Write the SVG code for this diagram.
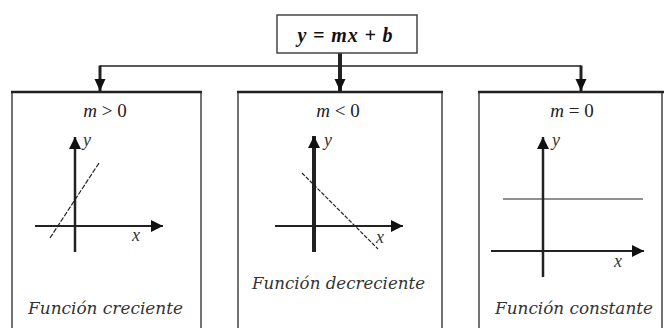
<svg xmlns="http://www.w3.org/2000/svg" width="664" height="328" viewBox="0 0 664 328">
<defs>
<style>
.box{fill:#fff;stroke:#444;stroke-width:1.5}
.boxtop{stroke:#222;stroke-width:2.5}
.conn{stroke:#222;fill:none}
.axis{stroke:#222;fill:none}
.m{font-family:"Liberation Serif","Times New Roman",serif;font-size:19px;fill:#222}
.lbl{font-family:"DejaVu Serif",serif;font-style:italic;font-size:17px;fill:#333}
.ax{font-family:"Liberation Serif","Times New Roman",serif;font-style:italic;font-size:18px;fill:#333}
.eq{font-family:"Liberation Serif","Times New Roman",serif;font-style:italic;font-weight:bold;font-size:20px;fill:#111}
</style>
<marker id="ah" markerUnits="userSpaceOnUse" markerWidth="12" markerHeight="12" viewBox="0 0 12 12" refX="12" refY="6" orient="auto">
<path d="M0,0 L12,6 L0,12 Z" fill="#111"/>
</marker>
<marker id="ahc" markerUnits="userSpaceOnUse" markerWidth="12" markerHeight="12" viewBox="0 0 12 12" refX="12" refY="6" orient="auto">
<path d="M0,0.5 L12,6 L0,11.5 Z" fill="#111"/>
</marker>
</defs>
<rect width="664" height="328" fill="#fff"/>

<g id="connectors">
<line class="conn" x1="100" y1="66" x2="581" y2="66" stroke-width="1.5"/>
<line class="conn" x1="340" y1="53" x2="340" y2="91" stroke-width="4" marker-end="url(#ahc)"/>
<line class="conn" x1="100" y1="65.5" x2="100" y2="91" stroke-width="3" marker-end="url(#ahc)"/>
<line class="conn" x1="581" y1="65.5" x2="581" y2="91" stroke-width="3" marker-end="url(#ahc)"/>
</g>

<g id="root">
<rect class="box" x="277" y="15" width="140" height="38" stroke="#333"/>
<text class="eq" x="345" y="42" text-anchor="middle" textLength="95">y = mx + b</text>
</g>

<g id="node-pos">
<rect class="box" x="12" y="92" width="189" height="260"/>
<line class="boxtop" x1="11" y1="92" x2="202" y2="92"/>
<text class="m" x="105" y="117" text-anchor="middle"><tspan font-style="italic">m</tspan> &gt; 0</text>
<line class="axis" x1="75" y1="252" x2="75" y2="137" stroke-width="2.5" marker-end="url(#ah)"/>
<line class="axis" x1="35" y1="226" x2="163" y2="226" stroke-width="2" marker-end="url(#ah)"/>
<line class="axis" x1="50" y1="238" x2="99" y2="163" stroke-width="1.2" stroke-dasharray="5,1.5" stroke="#444"/>
<text class="ax" x="83" y="146">y</text>
<text class="ax" x="132" y="241">x</text>
<text class="lbl" x="105.5" y="314" text-anchor="middle" textLength="155" lengthAdjust="spacingAndGlyphs">Función creciente</text>
</g>

<g id="node-neg">
<rect class="box" x="238" y="92" width="204" height="260"/>
<line class="boxtop" x1="237" y1="92" x2="443" y2="92"/>
<text class="m" x="338" y="117" text-anchor="middle"><tspan font-style="italic">m</tspan> &lt; 0</text>
<line class="axis" x1="314" y1="252" x2="314" y2="136" stroke-width="4" marker-end="url(#ah)"/>
<line class="axis" x1="275" y1="226" x2="403" y2="226" stroke-width="2" marker-end="url(#ah)"/>
<line class="axis" x1="302" y1="173" x2="378" y2="249" stroke-width="1.2" stroke-dasharray="4,1.5" stroke="#444"/>
<text class="ax" x="324" y="146">y</text>
<text class="ax" x="376" y="243">x</text>
<text class="lbl" x="338.5" y="289" text-anchor="middle" textLength="173" lengthAdjust="spacingAndGlyphs">Función decreciente</text>
</g>

<g id="node-zero">
<rect class="box" x="479" y="92" width="183" height="260"/>
<line class="boxtop" x1="478" y1="92" x2="664" y2="92"/>
<text class="m" x="572" y="117" text-anchor="middle"><tspan font-style="italic">m</tspan> = 0</text>
<line class="axis" x1="543" y1="277" x2="543" y2="137" stroke-width="2.5" marker-end="url(#ah)"/>
<line class="axis" x1="491" y1="251" x2="644" y2="251" stroke-width="2" marker-end="url(#ah)"/>
<line class="axis" x1="503" y1="199" x2="643" y2="199" stroke-width="1.2" stroke="#444"/>
<text class="ax" x="552" y="146">y</text>
<text class="ax" x="614" y="267">x</text>
<text class="lbl" x="574" y="314" text-anchor="middle" textLength="158" lengthAdjust="spacingAndGlyphs">Función constante</text>
</g>
</svg>
